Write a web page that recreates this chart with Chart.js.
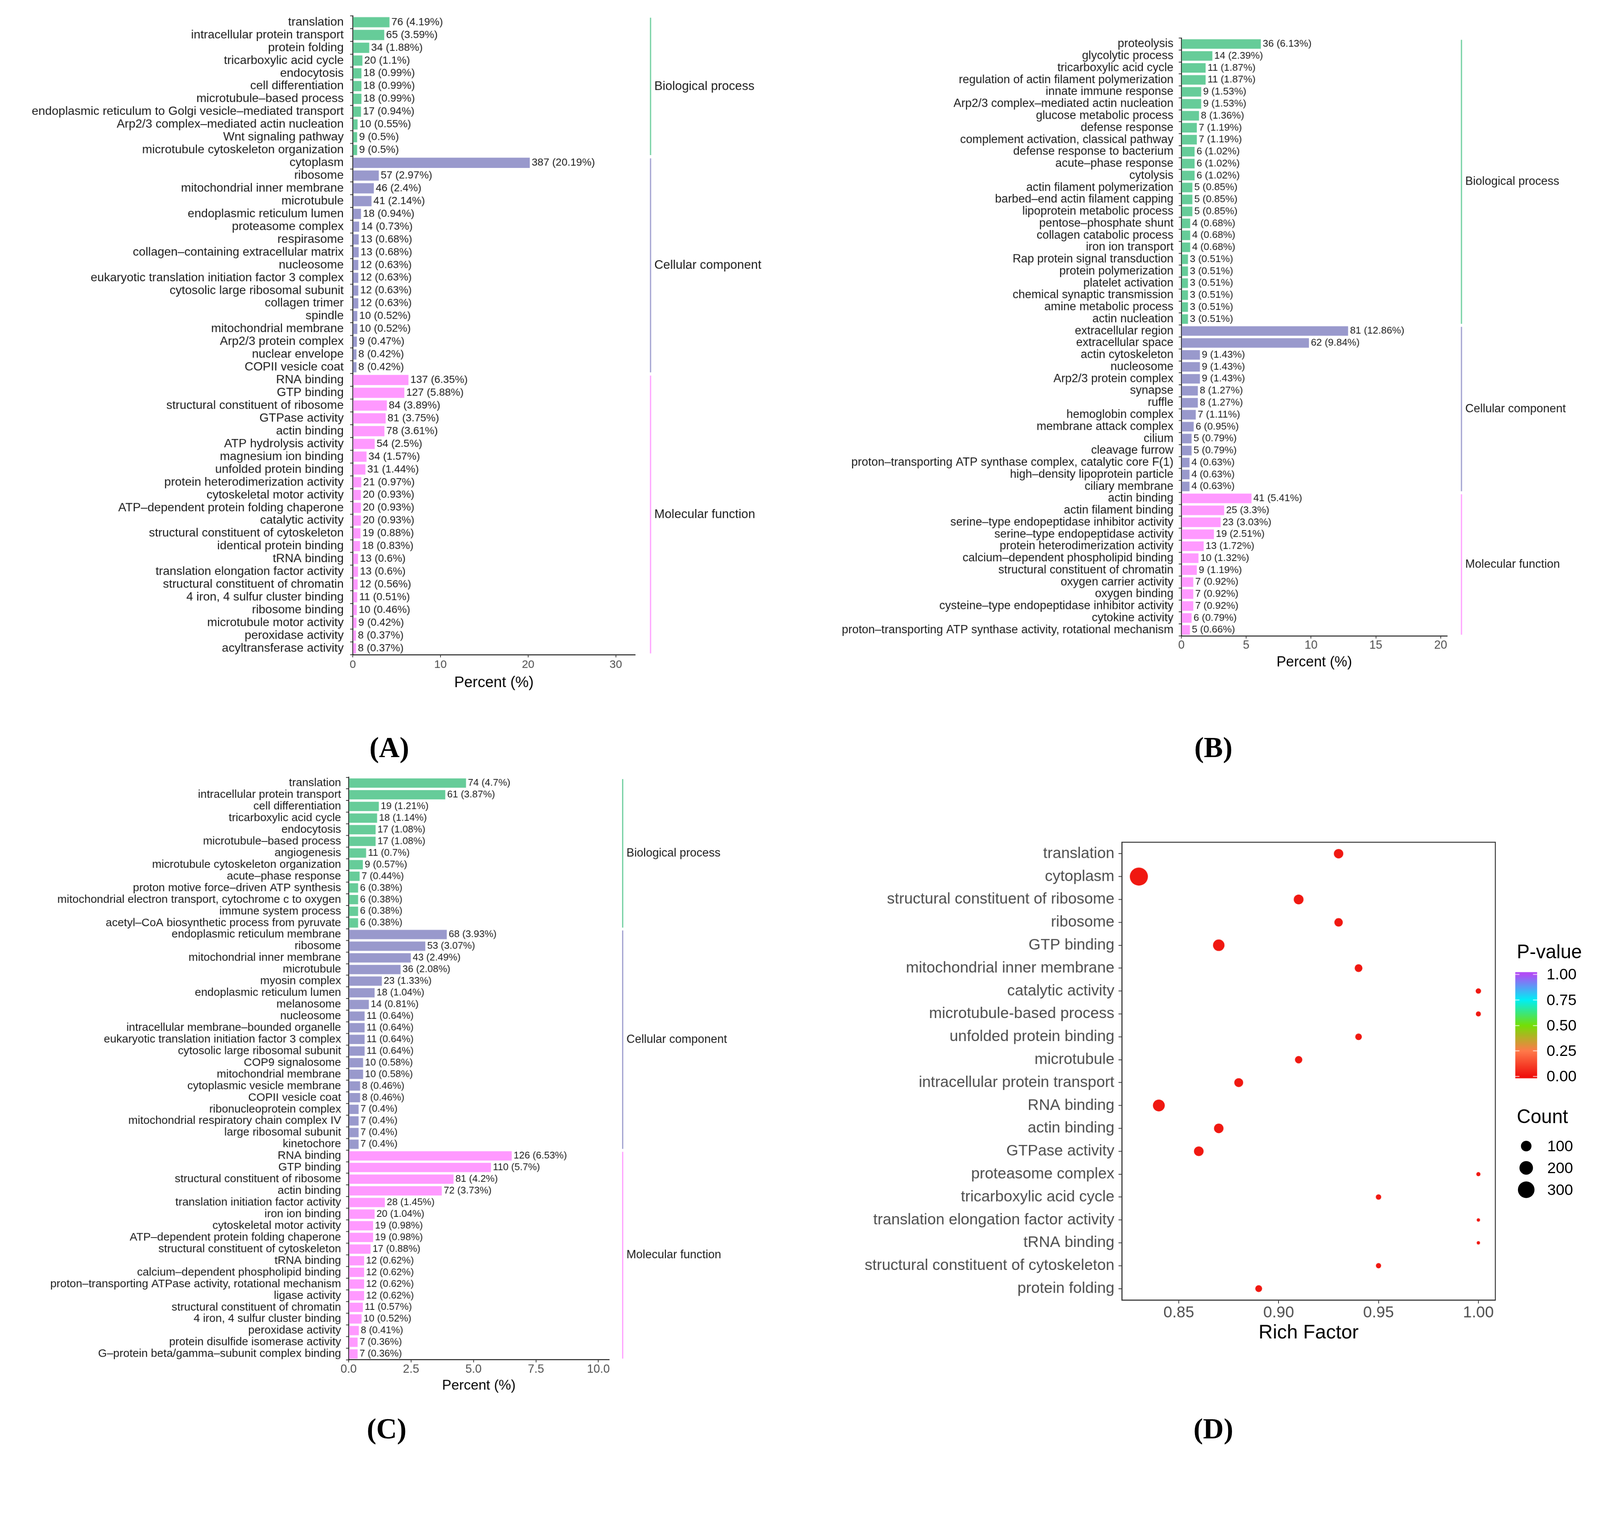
<!DOCTYPE html>
<html>
<head>
<meta charset="utf-8">
<script src="https://cdn.jsdelivr.net/npm/chart.js@4.4.1/dist/chart.umd.min.js"></script>
<style>
  html, body { margin: 0; padding: 0; background: #fff; overflow: hidden; }
  #page { position: relative; width: 4250px; height: 3873px; overflow: hidden; transform-origin: 0 0; font-family: 'Liberation Sans', Arial, sans-serif; color: #000; }
  #page canvas { position: absolute; }
  .tag { position: absolute; transform: translate(-50%, -50%); font-family: 'Liberation Serif', 'Times New Roman', serif; font-weight: bold; font-size: 76px; }
  .abs { position: absolute; white-space: nowrap; }
</style>
</head>
<body>
<div id="page">
  <div class="tag" style="left:1034px; top:1985px;">(A)</div>
  <div class="tag" style="left:3223px; top:1985px;">(B)</div>
  <div class="tag" style="left:1027px; top:3795px;">(C)</div>
  <div class="tag" style="left:3223px; top:3795px;">(D)</div>
</div>
<script>
// ---- data ----
const groupNames = ['Biological process', 'Cellular component', 'Molecular function'];

// panel A
const aLabels = [
  'translation', 'intracellular protein transport', 'protein folding', 'tricarboxylic acid cycle',
  'endocytosis', 'cell differentiation', 'microtubule–based process',
  'endoplasmic reticulum to Golgi vesicle–mediated transport', 'Arp2/3 complex–mediated actin nucleation',
  'Wnt signaling pathway', 'microtubule cytoskeleton organization',
  'cytoplasm', 'ribosome', 'mitochondrial inner membrane', 'microtubule', 'endoplasmic reticulum lumen',
  'proteasome complex', 'respirasome', 'collagen–containing extracellular matrix', 'nucleosome',
  'eukaryotic translation initiation factor 3 complex', 'cytosolic large ribosomal subunit', 'collagen trimer',
  'spindle', 'mitochondrial membrane', 'Arp2/3 protein complex', 'nuclear envelope', 'COPII vesicle coat',
  'RNA binding', 'GTP binding', 'structural constituent of ribosome', 'GTPase activity', 'actin binding',
  'ATP hydrolysis activity', 'magnesium ion binding', 'unfolded protein binding',
  'protein heterodimerization activity', 'cytoskeletal motor activity', 'ATP–dependent protein folding chaperone',
  'catalytic activity', 'structural constituent of cytoskeleton', 'identical protein binding', 'tRNA binding',
  'translation elongation factor activity', 'structural constituent of chromatin', '4 iron, 4 sulfur cluster binding',
  'ribosome binding', 'microtubule motor activity', 'peroxidase activity', 'acyltransferase activity'
];
const aCounts = [76, 65, 34, 20, 18, 18, 18, 17, 10, 9, 9,
  387, 57, 46, 41, 18, 14, 13, 13, 12, 12, 12, 12, 10, 10, 9, 8, 8,
  137, 127, 84, 81, 78, 54, 34, 31, 21, 20, 20, 20, 19, 18, 13, 13, 12, 11, 10, 9, 8, 8];
const aPercents = [4.19, 3.59, 1.88, 1.1, 0.99, 0.99, 0.99, 0.94, 0.55, 0.5, 0.5,
  20.19, 2.97, 2.4, 2.14, 0.94, 0.73, 0.68, 0.68, 0.63, 0.63, 0.63, 0.63, 0.52, 0.52, 0.47, 0.42, 0.42,
  6.35, 5.88, 3.89, 3.75, 3.61, 2.5, 1.57, 1.44, 0.97, 0.93, 0.93, 0.93, 0.88, 0.83, 0.6, 0.6, 0.56, 0.51, 0.46, 0.42, 0.37, 0.37];
const aGroupSizes = [11, 17, 22];
const aTicks = [0, 10, 20, 30];

// panel B
const bLabels = [
  'proteolysis', 'glycolytic process', 'tricarboxylic acid cycle', 'regulation of actin filament polymerization',
  'innate immune response', 'Arp2/3 complex–mediated actin nucleation', 'glucose metabolic process',
  'defense response', 'complement activation, classical pathway', 'defense response to bacterium',
  'acute–phase response', 'cytolysis', 'actin filament polymerization', 'barbed–end actin filament capping',
  'lipoprotein metabolic process', 'pentose–phosphate shunt', 'collagen catabolic process', 'iron ion transport',
  'Rap protein signal transduction', 'protein polymerization', 'platelet activation',
  'chemical synaptic transmission', 'amine metabolic process', 'actin nucleation',
  'extracellular region', 'extracellular space', 'actin cytoskeleton', 'nucleosome', 'Arp2/3 protein complex',
  'synapse', 'ruffle', 'hemoglobin complex', 'membrane attack complex', 'cilium', 'cleavage furrow',
  'proton–transporting ATP synthase complex, catalytic core F(1)', 'high–density lipoprotein particle',
  'ciliary membrane',
  'actin binding', 'actin filament binding', 'serine–type endopeptidase inhibitor activity',
  'serine–type endopeptidase activity', 'protein heterodimerization activity',
  'calcium–dependent phospholipid binding', 'structural constituent of chromatin', 'oxygen carrier activity',
  'oxygen binding', 'cysteine–type endopeptidase inhibitor activity', 'cytokine activity',
  'proton–transporting ATP synthase activity, rotational mechanism'
];
const bCounts = [36, 14, 11, 11, 9, 9, 8, 7, 7, 6, 6, 6, 5, 5, 5, 4, 4, 4, 3, 3, 3, 3, 3, 3,
  81, 62, 9, 9, 9, 8, 8, 7, 6, 5, 5, 4, 4, 4,
  41, 25, 23, 19, 13, 10, 9, 7, 7, 7, 6, 5];
const bPercents = [6.13, 2.39, 1.87, 1.87, 1.53, 1.53, 1.36, 1.19, 1.19, 1.02, 1.02, 1.02, 0.85, 0.85, 0.85,
  0.68, 0.68, 0.68, 0.51, 0.51, 0.51, 0.51, 0.51, 0.51,
  12.86, 9.84, 1.43, 1.43, 1.43, 1.27, 1.27, 1.11, 0.95, 0.79, 0.79, 0.63, 0.63, 0.63,
  5.41, 3.3, 3.03, 2.51, 1.72, 1.32, 1.19, 0.92, 0.92, 0.92, 0.79, 0.66];
const bGroupSizes = [24, 14, 12];
const bTicks = [0, 5, 10, 15, 20];

// panel C
const cLabels = [
  'translation', 'intracellular protein transport', 'cell differentiation', 'tricarboxylic acid cycle',
  'endocytosis', 'microtubule–based process', 'angiogenesis', 'microtubule cytoskeleton organization',
  'acute–phase response', 'proton motive force–driven ATP synthesis',
  'mitochondrial electron transport, cytochrome c to oxygen', 'immune system process',
  'acetyl–CoA biosynthetic process from pyruvate',
  'endoplasmic reticulum membrane', 'ribosome', 'mitochondrial inner membrane', 'microtubule', 'myosin complex',
  'endoplasmic reticulum lumen', 'melanosome', 'nucleosome', 'intracellular membrane–bounded organelle',
  'eukaryotic translation initiation factor 3 complex', 'cytosolic large ribosomal subunit', 'COP9 signalosome',
  'mitochondrial membrane', 'cytoplasmic vesicle membrane', 'COPII vesicle coat', 'ribonucleoprotein complex',
  'mitochondrial respiratory chain complex IV', 'large ribosomal subunit', 'kinetochore',
  'RNA binding', 'GTP binding', 'structural constituent of ribosome', 'actin binding',
  'translation initiation factor activity', 'iron ion binding', 'cytoskeletal motor activity',
  'ATP–dependent protein folding chaperone', 'structural constituent of cytoskeleton', 'tRNA binding',
  'calcium–dependent phospholipid binding', 'proton–transporting ATPase activity, rotational mechanism',
  'ligase activity', 'structural constituent of chromatin', '4 iron, 4 sulfur cluster binding',
  'peroxidase activity', 'protein disulfide isomerase activity', 'G–protein beta/gamma–subunit complex binding'
];
const cCounts = [74, 61, 19, 18, 17, 17, 11, 9, 7, 6, 6, 6, 6,
  68, 53, 43, 36, 23, 18, 14, 11, 11, 11, 11, 10, 10, 8, 8, 7, 7, 7, 7,
  126, 110, 81, 72, 28, 20, 19, 19, 17, 12, 12, 12, 12, 11, 10, 8, 7, 7];
const cPercents = [4.7, 3.87, 1.21, 1.14, 1.08, 1.08, 0.7, 0.57, 0.44, 0.38, 0.38, 0.38, 0.38,
  3.93, 3.07, 2.49, 2.08, 1.33, 1.04, 0.81, 0.64, 0.64, 0.64, 0.64, 0.58, 0.58, 0.46, 0.46, 0.4, 0.4, 0.4, 0.4,
  6.53, 5.7, 4.2, 3.73, 1.45, 1.04, 0.98, 0.98, 0.88, 0.62, 0.62, 0.62, 0.62, 0.57, 0.52, 0.41, 0.36, 0.36];
const cGroupSizes = [13, 19, 18];
const cTicks = [0, 2.5, 5, 7.5, 10];

// panel D
const dLabels = [
  'translation', 'cytoplasm', 'structural constituent of ribosome', 'ribosome', 'GTP binding',
  'mitochondrial inner membrane', 'catalytic activity', 'microtubule-based process', 'unfolded protein binding',
  'microtubule', 'intracellular protein transport', 'RNA binding', 'actin binding', 'GTPase activity',
  'proteasome complex', 'tricarboxylic acid cycle', 'translation elongation factor activity', 'tRNA binding',
  'structural constituent of cytoskeleton', 'protein folding'
];
const dRichFactor = [0.93, 0.83, 0.91, 0.93, 0.87, 0.94, 1.00, 1.00, 0.94, 0.91,
  0.88, 0.84, 0.87, 0.86, 1.00, 0.95, 1.00, 1.00, 0.95, 0.89];
const dCount = [76, 387, 84, 57, 127, 46, 20, 18, 31, 41, 65, 137, 78, 81, 14, 20, 13, 13, 19, 34];
const dPValue = [0.02, 0.02, 0.02, 0.02, 0.02, 0.02, 0.02, 0.02, 0.02, 0.02,
  0.02, 0.02, 0.02, 0.02, 0.02, 0.02, 0.02, 0.02, 0.02, 0.02];
const dTicks = [0.85, 0.90, 0.95, 1.00];
const pBreaks = [1.00, 0.75, 0.50, 0.25, 0.00];
const countBreaks = [100, 200, 300];

// ---- styling ----
const FONT = "'Liberation Sans', Arial, sans-serif";
const groupColors = ['#66CC99', '#9999CC', '#FF99FF'];
const pStops = [[0, [239, 16, 12]], [0.25, [255, 122, 74]], [0.5, [116, 223, 6]], [0.75, [0, 239, 245]], [1, [177, 76, 245]]];

Chart.defaults.font.family = FONT;

const page = document.getElementById('page');

// shrink the whole figure if the window is smaller than the 4250x3873 design
function fitPage() {
  const s = Math.min(window.innerWidth / 4250, window.innerHeight / 3873);
  page.style.transform = s < 0.999 ? 'scale(' + s + ')' : '';
}
fitPage();
window.addEventListener('resize', fitPage);

function makeCanvas(left, top, w, h) {
  const c = document.createElement('canvas');
  c.width = w;
  c.height = h;
  c.style.left = left + 'px';
  c.style.top = top + 'px';
  c.style.width = w + 'px';
  c.style.height = h + 'px';
  page.appendChild(c);
  return c;
}

function pColor(p) {
  for (let i = 1; i < pStops.length; i++) {
    if (p <= pStops[i][0]) {
      const [p0, c0] = pStops[i - 1], [p1, c1] = pStops[i];
      const t = (p - p0) / (p1 - p0);
      const c = c0.map((v, k) => Math.round(v + (c1[k] - v) * t));
      return 'rgb(' + c.join(',') + ')';
    }
  }
  return 'rgb(' + pStops[pStops.length - 1][1].join(',') + ')';
}

// ggplot-like area scale for the dot size
const cMin = Math.min(...dCount), cMax = Math.max(...dCount);
function dotRadius(n) {
  return 4.5 + 19.5 * Math.sqrt(Math.max(0, (n - cMin) / (cMax - cMin)));
}

// count (percent) labels at the end of each bar
function valueTextPlugin(counts, pcts, size) {
  return {
    id: 'valueText',
    afterDatasetsDraw(chart) {
      const ctx = chart.ctx;
      ctx.save();
      ctx.font = size + 'px ' + FONT;
      ctx.fillStyle = '#1a1a1a';
      ctx.textBaseline = 'middle';
      ctx.textAlign = 'left';
      chart.getDatasetMeta(0).data.forEach((bar, i) => {
        ctx.fillText(counts[i] + ' (' + pcts[i] + '%)', bar.x + 5, bar.y);
      });
      ctx.restore();
    }
  };
}

// coloured vertical lines + GO category names on the right
function bracketPlugin(sizes, dx, size) {
  return {
    id: 'brackets',
    afterDraw(chart) {
      const ctx = chart.ctx, y = chart.scales.y;
      const step = y.getPixelForValue(1) - y.getPixelForValue(0);
      const x = chart.chartArea.right + dx;
      let start = 0;
      ctx.save();
      sizes.forEach((n, g) => {
        const y1 = y.getPixelForValue(start) - step * 0.35;
        const y2 = y.getPixelForValue(start + n - 1) + step * 0.4;
        ctx.strokeStyle = groupColors[g];
        ctx.lineWidth = 3;
        ctx.beginPath();
        ctx.moveTo(x, y1);
        ctx.lineTo(x, y2);
        ctx.stroke();
        ctx.fillStyle = '#1a1a1a';
        ctx.font = size + 'px ' + FONT;
        ctx.textBaseline = 'middle';
        ctx.fillText(groupNames[g], x + 10, (y1 + y2) / 2);
        start += n;
      });
      ctx.restore();
    }
  };
}

function barPanel(o) {
  const colors = [];
  o.sizes.forEach((n, g) => { for (let i = 0; i < n; i++) colors.push(groupColors[g]); });
  const canvas = makeCanvas(o.left, o.top, o.w, o.h);
  new Chart(canvas, {
    type: 'bar',
    data: {
      labels: o.labels,
      datasets: [{ data: o.pcts, backgroundColor: colors, barPercentage: 0.8, categoryPercentage: 1 }]
    },
    options: {
      indexAxis: 'y',
      responsive: false,
      animation: false,
      devicePixelRatio: 1,
      layout: { padding: { top: o.padTop, right: o.padRight, left: 0, bottom: 0 } },
      plugins: { legend: { display: false }, tooltip: { enabled: false } },
      scales: {
        x: {
          min: 0,
          max: o.xMax,
          afterBuildTicks: s => { s.ticks = o.ticks.map(v => ({ value: v })); },
          afterFit: s => { s.height = o.xHeight; },
          grid: { drawOnChartArea: false, tickLength: 7, color: '#333', lineWidth: 2 },
          border: { color: '#1a1a1a', width: 2.5 },
          ticks: {
            font: { size: o.xTickSize }, color: '#4d4d4d', padding: o.xTickPad, maxRotation: 0,
            callback: v => v.toFixed(o.decimals)
          },
          title: {
            display: true, text: 'Percent (%)', color: '#000',
            font: { size: o.titleSize }, padding: { top: 0, bottom: o.titlePad }
          }
        },
        y: {
          afterFit: s => { s.width = o.yWidth; },
          grid: { drawOnChartArea: false, tickLength: 7, color: '#333', lineWidth: 2 },
          border: { color: '#1a1a1a', width: 2.5 },
          ticks: { autoSkip: false, font: { size: o.labelSize }, color: '#1a1a1a', padding: o.yTickPad }
        }
      }
    },
    plugins: [valueTextPlugin(o.counts, o.pcts, o.valueSize), bracketPlugin(o.sizes, o.bracketDx, o.groupSize)]
  });
}

barPanel({
  left: 0, top: 0, w: 2150, h: 1860,
  labels: aLabels, counts: aCounts, pcts: aPercents, sizes: aGroupSizes, ticks: aTicks, decimals: 0,
  xMax: 32.2, padTop: 42, padRight: 2150 - 1687, yWidth: 937, xHeight: 121,
  labelSize: 32, valueSize: 28, xTickSize: 30, titleSize: 40, groupSize: 33,
  xTickPad: 2, yTickPad: 17, titlePad: 22, bracketDx: 41
});

barPanel({
  left: 2130, top: 0, w: 2120, h: 1800,
  labels: bLabels, counts: bCounts, pcts: bPercents, sizes: bGroupSizes, ticks: bTicks, decimals: 0,
  xMax: 20.5, padTop: 101, padRight: 2120 - 1714, yWidth: 1008, xHeight: 111,
  labelSize: 31, valueSize: 26.5, xTickSize: 31, titleSize: 38, groupSize: 31,
  xTickPad: 0, yTickPad: 14, titlePad: 18, bracketDx: 38
});

barPanel({
  left: 0, top: 2000, w: 2100, h: 1730,
  labels: cLabels, counts: cCounts, pcts: cPercents, sizes: cGroupSizes, ticks: cTicks, decimals: 1,
  xMax: 10.43, padTop: 64.5, padRight: 2100 - 1618, yWidth: 926, xHeight: 118.5,
  labelSize: 30, valueSize: 26, xTickSize: 31, titleSize: 37, groupSize: 31,
  xTickPad: 0, yTickPad: 13, titlePad: 27, bracketDx: 36
});

// panel D: bubble chart
const boxPlugin = {
  id: 'box',
  afterDraw(chart) {
    const { left, top, right, bottom } = chart.chartArea;
    const ctx = chart.ctx;
    ctx.save();
    ctx.strokeStyle = '#333';
    ctx.lineWidth = 2.5;
    ctx.strokeRect(left, top, right - left, bottom - top);
    ctx.restore();
  }
};

const dCanvas = makeCanvas(2150, 2150, 2100, 1450);
new Chart(dCanvas, {
  type: 'bubble',
  data: {
    datasets: [{
      data: dLabels.map((t, i) => ({ x: dRichFactor[i], y: t, r: dotRadius(dCount[i]) })),
      backgroundColor: dPValue.map(pColor),
      borderWidth: 0
    }]
  },
  options: {
    responsive: false,
    animation: false,
    devicePixelRatio: 1,
    layout: { padding: { top: 87, right: 2100 - 1822, left: 0, bottom: 0 } },
    plugins: { legend: { display: false }, tooltip: { enabled: false } },
    scales: {
      x: {
        type: 'linear',
        min: 0.8215,
        max: 1.0085,
        afterBuildTicks: s => { s.ticks = dTicks.map(v => ({ value: v })); },
        afterFit: s => { s.height = 147; },
        grid: { drawOnChartArea: false, tickLength: 9, color: '#333', lineWidth: 2 },
        border: { color: '#333', width: 2.5 },
        ticks: { font: { size: 42 }, color: '#4d4d4d', padding: 0, maxRotation: 0, callback: v => v.toFixed(2) },
        title: { display: true, text: 'Rich Factor', color: '#000', font: { size: 52 }, padding: { top: 0, bottom: 28 } }
      },
      y: {
        type: 'category',
        labels: dLabels,
        offset: true,
        afterFit: s => { s.width = 830; },
        grid: { drawOnChartArea: false, tickLength: 9, color: '#333', lineWidth: 2 },
        border: { color: '#333', width: 2.5 },
        ticks: { autoSkip: false, font: { size: 41 }, color: '#4d4d4d', padding: 11 }
      }
    }
  },
  plugins: [boxPlugin]
});

// panel D legends (colour bar + dot sizes)
function addText(txt, left, top, size, extra) {
  const d = document.createElement('div');
  d.className = 'abs';
  d.textContent = txt;
  d.style.left = left + 'px';
  d.style.top = top + 'px';
  d.style.fontSize = size + 'px';
  d.style.lineHeight = '1';
  d.style.transform = 'translateY(-50%)';
  if (extra) Object.assign(d.style, extra);
  page.appendChild(d);
  return d;
}

addText('P-value', 4029, 2528, 51);
const barTop = 2582, barH = 282, barLeft = 4025, barW = 58;
const tickTop = 2588, tickBottom = 2859;
const grad = pStops.slice().reverse().map(([p, c]) => {
  const y = (tickTop + (1 - p) * (tickBottom - tickTop) - barTop) / barH * 100;
  return 'rgb(' + c.join(',') + ') ' + y.toFixed(1) + '%';
}).join(', ');
const cbar = document.createElement('div');
cbar.className = 'abs';
Object.assign(cbar.style, {
  left: barLeft + 'px', top: barTop + 'px', width: barW + 'px', height: barH + 'px',
  background: 'linear-gradient(to bottom, ' + grad + ')'
});
page.appendChild(cbar);
pBreaks.forEach(p => {
  const y = tickTop + (1 - p) * (tickBottom - tickTop);
  [barLeft, barLeft + barW - 11].forEach(x => {
    const t = document.createElement('div');
    t.className = 'abs';
    Object.assign(t.style, { left: x + 'px', top: (y - 1) + 'px', width: '11px', height: '2px', background: 'rgba(255,255,255,0.85)' });
    page.appendChild(t);
  });
  addText(p.toFixed(2), 4108, y, 41, { color: '#000' });
});

addText('Count', 4029, 2966, 51);
countBreaks.forEach((n, i) => {
  const y = 3044 + i * 58;
  const r = dotRadius(n);
  const dot = document.createElement('div');
  dot.className = 'abs';
  Object.assign(dot.style, {
    left: (4054 - r) + 'px', top: (y - r) + 'px', width: (2 * r) + 'px', height: (2 * r) + 'px',
    borderRadius: '50%', background: '#000'
  });
  page.appendChild(dot);
  addText(String(n), 4110, y, 41);
});
</script>
</body>
</html>
